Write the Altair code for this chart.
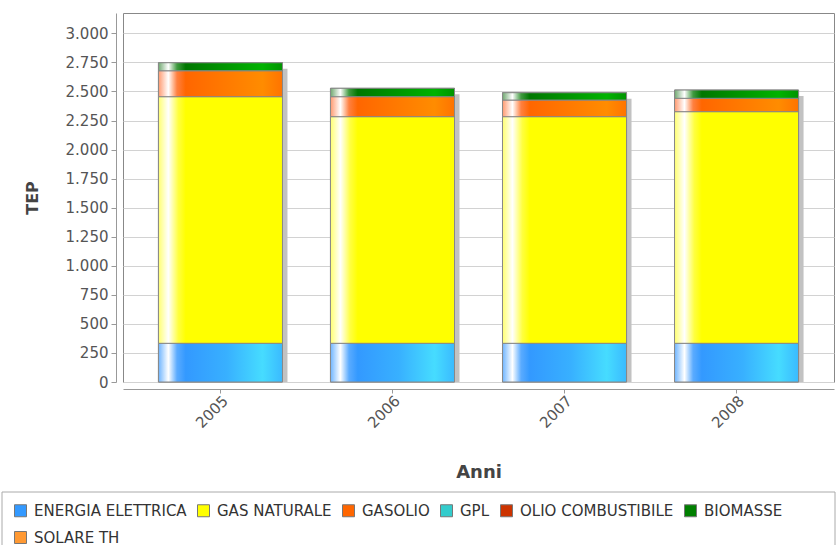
import altair as alt
import pandas as pd

years = ["2005", "2006", "2007", "2008"]
series = ["ENERGIA ELETTRICA", "GAS NATURALE", "GASOLIO", "GPL",
          "OLIO COMBUSTIBILE", "BIOMASSE", "SOLARE TH"]
colors = ["#3399ff", "#ffff00", "#ff6600", "#33cccc", "#cc3300", "#007f00", "#ff9933"]

energia = [333, 333, 333, 333]
gas = [2122, 1950, 1950, 1993]
gasolio = [223, 172, 143, 115]
gpl = [0, 0, 0, 0]
olio = [0, 0, 0, 0]
biomasse = [69, 72, 63, 71]
solare = [0, 0, 0, 0]
y_ticks = [0, 250, 500, 750, 1000, 1250, 1500, 1750, 2000, 2250, 2500, 2750, 3000]

values = [energia, gas, gasolio, gpl, olio, biomasse, solare]
rows = []
for i, s in enumerate(series):
    for j, y in enumerate(years):
        rows.append({"year": y, "series": s, "idx": i, "value": values[i][j]})
df = pd.DataFrame(rows)

def grad(stops):
    return alt.Gradient(gradient="linear", x1=0, x2=1, y1=0, y2=0,
                        stops=[alt.GradientStop(offset=o, color=c) for o, c in stops])

gradients = {
    "ENERGIA ELETTRICA": grad([(0, "#6fb5ff"), (0.08, "#ffffff"), (0.15, "#5aabff"), (0.22, "#3399ff"),
                               (0.55, "#38b0ff"), (0.84, "#46dcff"), (1, "#3abaff")]),
    "GAS NATURALE": grad([(0, "#ffff70"), (0.08, "#ffffff"), (0.16, "#ffff40"), (0.22, "#ffff00"), (1, "#ffff00")]),
    "GASOLIO": grad([(0, "#ff9a70"), (0.08, "#ffffff"), (0.15, "#ff8040"), (0.22, "#ff6600"),
                     (0.84, "#ff8c00"), (1, "#ff7300")]),
    "BIOMASSE": grad([(0, "#70a870"), (0.08, "#ffffff"), (0.15, "#409a40"), (0.22, "#007700"),
                      (0.84, "#00b300"), (1, "#009400")]),
}

x_enc = alt.X("year:N",
              scale=alt.Scale(paddingInner=0.279, paddingOuter=0.206),
              axis=alt.Axis(title="Anni", labelAngle=-45, labelFontSize=15, labelColor="#555",
                            labelFont="DejaVu Sans", labelPadding=0, tickSize=4, offset=7,
                            titleFont="DejaVu Sans", titleFontSize=18, titleFontWeight="bold",
                            titleColor="#444", titleBaseline="alphabetic", titleY=88,
                            domainColor="#999", tickColor="#999", grid=False))

y_scale = alt.Scale(domain=[0, 3175], nice=False, zero=True)
y_axis = alt.Axis(title="TEP", values=y_ticks,
                  labelExpr="replace(format(datum.value, ','), ',', '.')",
                  labelFontSize=15, labelColor="#555", labelFont="DejaVu Sans", labelPadding=3,
                  tickSize=5, offset=7, domainColor="#999", tickColor="#999",
                  grid=True, gridColor="#d2d2d2",
                  titleFont="DejaVu Sans", titleFontSize=16, titleFontWeight="bold", titleColor="#444",
                  titleX=-79, titleBaseline="alphabetic")

base = alt.Chart(df).transform_stack(
    stack="value", groupby=["year"], as_=["y0", "y1"],
    sort=[alt.SortField("idx", order="ascending")])

shadow = alt.Chart(df).transform_aggregate(
    total="sum(value)", groupby=["year"]
).mark_bar(color="#c2c2c2", xOffset=5, x2Offset=5, yOffset=6, clip=True).encode(
    x=x_enc,
    y=alt.Y("total:Q", scale=y_scale, axis=y_axis),
)

bars = base.transform_filter(alt.datum.value > 0).mark_bar(stroke="#888", strokeWidth=1).encode(
    x=x_enc,
    y=alt.Y("y0:Q", scale=y_scale, axis=y_axis),
    y2="y1:Q",
    color=alt.Color("series:N",
                    scale=alt.Scale(domain=series, range=colors),
                    sort=series,
                    legend=alt.Legend(title=None, orient="none", legendX=-110, legendY=490,
                                      direction="horizontal", columns=6,
                                      symbolType="square", symbolSize=144,
                                      symbolStrokeColor="#777", symbolStrokeWidth=1,
                                      symbolOpacity=1,
                                      labelFont="DejaVu Sans", labelFontSize=15, labelColor="#333",
                                      labelOffset=6, columnPadding=8, rowPadding=10,
                                      padding=0)),
)

grad_layers = []
for s, g in gradients.items():
    grad_layers.append(
        base.transform_filter(alt.datum.series == s).mark_bar(
            color=g, stroke="#888", strokeWidth=1).encode(
            x=x_enc,
            y=alt.Y("y0:Q", scale=y_scale, axis=y_axis),
            y2="y1:Q",
        )
    )

frame_df = pd.DataFrame({"k": [0]})
legend_box = alt.Chart(frame_df).mark_rect(
    fill=None, fillOpacity=0, stroke="#aaa", strokeWidth=1).encode(
    x=alt.value(-121), x2=alt.value(712), y=alt.value(479), y2=alt.value(545)
)

chart = alt.layer(shadow, bars, *grad_layers, legend_box).properties(
    width=711, height=369,
    autosize=alt.AutoSizeParams(type="none"),
    padding={"left": 123, "top": 13, "right": 2, "bottom": 163},
    background="white",
).configure_view(stroke="#888", strokeWidth=1)

chart.save("out.html", embed_options={"renderer": "svg", "actions": False})
